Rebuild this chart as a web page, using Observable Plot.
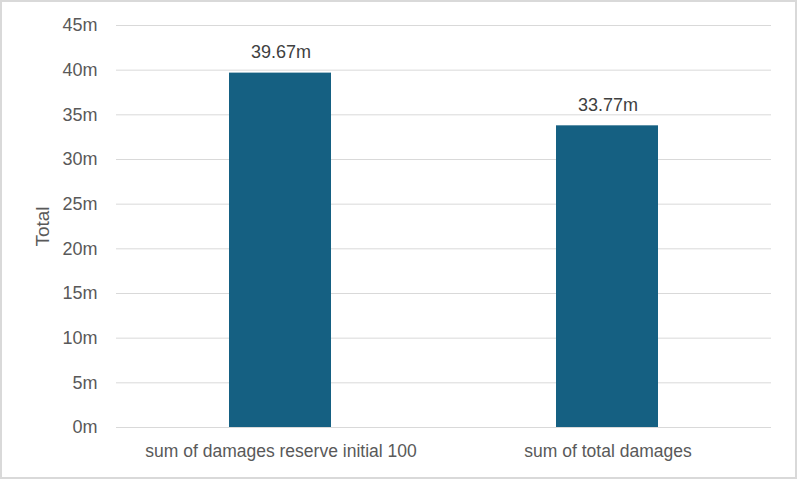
<!DOCTYPE html>
<html>
<head>
<meta charset="utf-8">
<script src="https://cdn.jsdelivr.net/npm/d3@7"></script>
<script src="https://cdn.jsdelivr.net/npm/@observablehq/plot@0.6"></script>
<style>
  html, body { margin: 0; padding: 0; background: #fff; }
  #wrap { position: relative; width: 797px; height: 479px; }
  #border { position: absolute; left: 0; top: 0; width: 797px; height: 479px; box-sizing: border-box; border: 2px solid #d9d9d9; pointer-events: none; }
</style>
</head>
<body>
<div id="wrap"><div id="chart"></div><div id="border"></div></div>
<script>
const categories = ["sum of damages reserve initial 100", "sum of total damages"];
const values = [39.67, 33.77]; // millions
const labels = ["39.67m", "33.77m"];
const yTicks = [0, 5, 10, 15, 20, 25, 30, 35, 40, 45];

const data = categories.map((c, i) => ({category: c, value: values[i], label: labels[i]}));

const chart = Plot.plot({
  width: 797,
  height: 479,
  marginLeft: 116,
  marginRight: 26,
  marginTop: 25,
  marginBottom: 52,
  style: {fontFamily: "'Liberation Sans', Arial, sans-serif", color: "#595959", background: "transparent"},
  x: {domain: categories, padding: 0, label: null},
  y: {domain: [0, 45], label: null},
  marks: [
    Plot.ruleY(yTicks, {stroke: "#d9d9d9", strokeWidth: 1}),
    Plot.barY(data, {x: "category", y: "value", fill: "#156082", insetLeft: 112, insetRight: 113}),
    Plot.text(data, {x: "category", y: "value", text: "label", dy: -21, fill: "#404040", fontSize: 18}),
    Plot.axisY({ticks: yTicks, tickFormat: d => d + "m", tickSize: 0, tickPadding: 19, fontSize: 18, label: null, color: "#595959"}),
    Plot.axisX({tickSize: 0, tickPadding: 17, fontSize: 17.5, label: null, color: "#595959"}),
    Plot.text(["Total"], {frameAnchor: "left", dx: -74, rotate: -90, textAnchor: "middle", fontSize: 19, fill: "#595959"})
  ]
});
document.getElementById("chart").appendChild(chart);
</script>
</body>
</html>
